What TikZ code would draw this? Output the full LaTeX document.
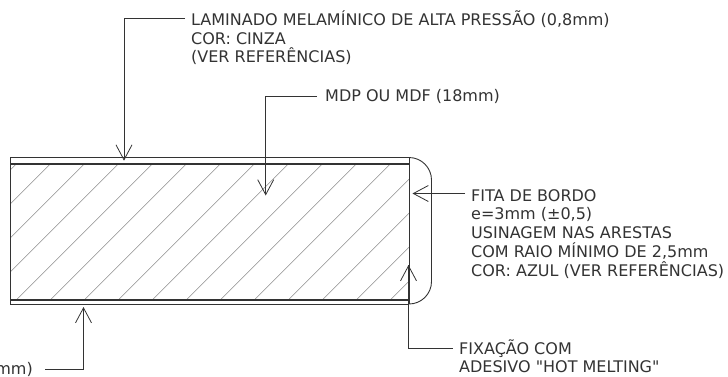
\documentclass[tikz,border=0pt]{standalone}
\usepackage{fontspec}
\newfontfamily\notefont{DejaVu Sans}
\usetikzlibrary{arrows.meta}
\definecolor{ink}{HTML}{333333}
\tikzset{
  x=1pt,y=-1pt,
  outline/.style={draw=ink,line width=0.9pt},
  heavy/.style={draw=ink,line width=1.8pt},
  hatchline/.style={draw=black!45,line width=0.5pt},
  leader/.style={draw=ink,line width=0.9pt,-{Straight Barb[length=15pt,width=16pt,line width=0.8pt]}},
  note/.style={inner sep=0pt,anchor=base west,align=left,text=ink,font=\notefont\fontsize{16pt}{18.8pt}\selectfont},
}
\begin{document}
\begin{tikzpicture}
\useasboundingbox (0,0) rectangle (728,376);
% hatch
\begin{scope}
\clip (10.5,163.5) rectangle (409,300);
\foreach \k in {0,...,16}{
  \draw[hatchline] ({180.2+34*\k-163.5},163.5) -- ({180.2+34*\k-300},300);
}
\end{scope}
% panel
\draw[outline] (409,157.5) -- (10.5,157.5) -- (10.5,304) -- (409,304);
\draw[heavy] (10.5,163.7) -- (409,163.7);
\draw[heavy] (10.5,300) -- (409,300);
\draw[outline] (409,157.5) -- (409,304);
\draw[heavy] (409,265) -- (409,304);
% edge band
\draw[outline,rounded corners=22.5pt] (409,157.5) -- (431.5,157.5) -- (431.5,304) -- (409,304);
% labels
\node[note] (lam) at (191,25) {LAMINADO MELAMÍNICO DE ALTA PRESSÃO (0,8mm)};
\node[note] (lamb) at (191,44) {COR: CINZA};
\node[note] (lamc) at (191,62.5) {(VER REFERÊNCIAS)};
\node[note] (mdp) at (325,101.5) {MDP OU MDF (18mm)};
\node[note] (fa) at (471,201) {FITA DE BORDO};
\node[note] (fb) at (471,219.5) {e=3mm (±0,5)};
\node[note] (fc) at (471,238) {USINAGEM NAS ARESTAS};
\node[note] (fd) at (471,257) {COM RAIO MÍNIMO DE 2,5mm};
\node[note] (fe) at (471,276) {COR: AZUL (VER REFERÊNCIAS)};
\node[note] (fixa) at (459,354) {FIXAÇÃO COM};
\node[note] (fixb) at (459,372.5) {ADESIVO "HOT MELTING"};
\node[note,anchor=base east] (bot) at (33,374) {mm)};
% leader points
\coordinate (lamS) at (185,18);
\coordinate (lamE) at (124,18);
\coordinate (lamT) at (124,160.7);
\coordinate (mdpS) at (317,96);
\coordinate (mdpE) at (265.7,96);
\coordinate (mdpT) at (265.7,195.5);
\coordinate (fitS) at (465,193.5);
\coordinate (fitT) at (412.5,193.5);
\coordinate (fixS) at (452.7,348);
\coordinate (fixE) at (408.5,348);
\coordinate (fixT) at (408.5,265);
\coordinate (botS) at (45,369.5);
\coordinate (botE) at (83.5,369.5);
\coordinate (botT) at (83.5,307);
\draw[leader] (lamS) -- (lamE) -- (lamT);
\draw[leader] (mdpS) -- (mdpE) -- (mdpT);
\draw[leader] (fitS) -- (fitT);
\draw[leader] (fixS) -- (fixE) -- (fixT);
\draw[leader] (botS) -- (botE) -- (botT);
\end{tikzpicture}
\end{document}
